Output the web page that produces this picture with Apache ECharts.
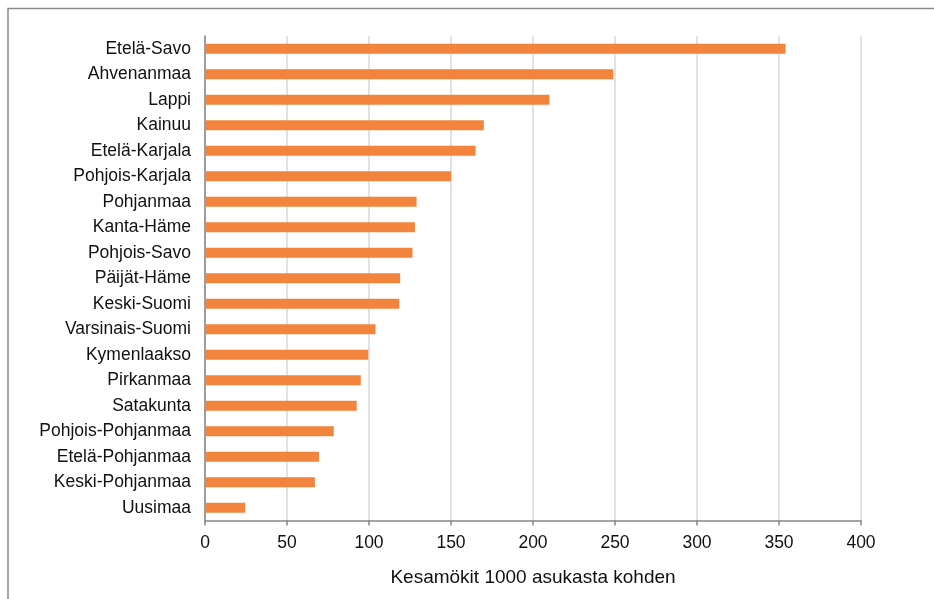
<!DOCTYPE html>
<html>
<head>
<meta charset="utf-8">
<script src="https://cdn.jsdelivr.net/npm/echarts@6/dist/echarts.min.js"></script>
<style>
  html, body { margin: 0; padding: 0; background: #fff; }
  #chart { width: 934px; height: 599px; }
</style>
</head>
<body>
<div id="chart"></div>
<script>
// Regions, listed top to bottom
const regions = [
  'Etelä-Savo', 'Ahvenanmaa', 'Lappi', 'Kainuu', 'Etelä-Karjala',
  'Pohjois-Karjala', 'Pohjanmaa', 'Kanta-Häme', 'Pohjois-Savo', 'Päijät-Häme',
  'Keski-Suomi', 'Varsinais-Suomi', 'Kymenlaakso', 'Pirkanmaa', 'Satakunta',
  'Pohjois-Pohjanmaa', 'Etelä-Pohjanmaa', 'Keski-Pohjanmaa', 'Uusimaa'
];
// Summer cottages per 1000 inhabitants
const cottages = [
  354, 249, 210, 170, 165,
  150, 129, 128, 126.5, 119,
  118.5, 104, 99.5, 95, 92.5,
  78.5, 69.5, 67, 24.5
];
const axisTitle = 'Kesamökit 1000 asukasta kohden';

const chart = echarts.init(document.getElementById('chart'), null, { renderer: 'canvas' });
const font = 'Liberation Sans, Arial, sans-serif';

chart.setOption({
  animation: false,
  backgroundColor: '#fff',
  graphic: [{
    type: 'rect',
    shape: { x: 8, y: 8.5, width: 1200, height: 1200 },
    style: { fill: 'none', stroke: '#8a8a8a', lineWidth: 1.5 },
    z: 0
  }],
  grid: { left: 205, right: 73, top: 36, bottom: 78.5, containLabel: false },
  xAxis: {
    type: 'value',
    min: 0, max: 400, interval: 50,
    name: axisTitle,
    nameLocation: 'middle',
    nameGap: 48,
    nameTextStyle: { fontFamily: font, fontSize: 19, color: '#111' },
    axisLine: { show: true, lineStyle: { color: '#868686', width: 1.5 } },
    axisTick: { show: true, length: 5, lineStyle: { color: '#868686', width: 1.5 } },
    axisLabel: { fontFamily: font, fontSize: 17.5, color: '#111', margin: 14 },
    splitLine: { show: true, lineStyle: { color: '#d9d9d9', width: 1.5 } }
  },
  yAxis: {
    type: 'category',
    data: regions,
    inverse: true,
    axisLine: { show: true, lineStyle: { color: '#868686', width: 1.5 } },
    axisTick: { show: false },
    axisLabel: { fontFamily: font, fontSize: 17.5, color: '#111', margin: 14 }
  },
  series: [{
    type: 'bar',
    data: cottages,
    barWidth: 10,
    itemStyle: { color: '#F2843E' }
  }]
});
</script>
</body>
</html>
